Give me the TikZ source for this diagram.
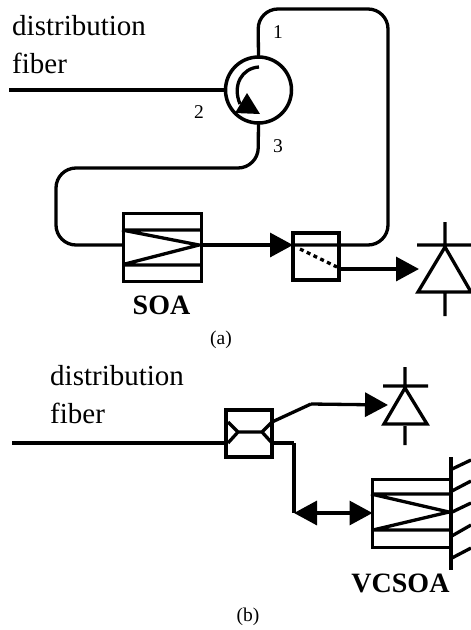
\documentclass[tikz,border=0pt]{standalone}
\usepackage{fontspec}
\setmainfont{Liberation Serif}
\usetikzlibrary{arrows.meta,positioning}

\begin{document}
\begin{tikzpicture}[x=1pt,y=-1pt,on grid,>={Triangle[length=23pt,width=24pt]},
        wire/.style={line width=3.3pt},
        box/.style={draw,line width=3.5pt,inner sep=0pt,outer sep=0pt},
        amp/.style={box,minimum width=78pt,minimum height=68pt},
        portlabel/.style={font=\fontsize{19.5}{19.5}\selectfont,inner sep=0pt},
        partlabel/.style={font=\fontsize{28}{28}\selectfont\bfseries,inner sep=0pt},
        fiberlabel/.style={font=\fontsize{29}{38}\selectfont,align=left,inner sep=0pt}]
        \useasboundingbox (0,0) rectangle (471,630);
        % part a
        \node[fiberlabel,anchor=north west] (fiber_a) at (12,15) {distribution\\fiber};
        \coordinate (fiber_a_in) at (9,90);
        \node[circle,draw,line width=3.5pt,minimum size=66pt,inner sep=0pt,outer sep=0pt] (circ) at (258.5,90) {};
        \node[portlabel] (p_1) at (278,32) {1};
        \node[portlabel] (p_2) at (199,112) {2};
        \node[portlabel] (p_3) at (278,146) {3};
        \node[amp] (soa) at (162.5,247.5) {};
        \node[box,minimum width=46pt,minimum height=47pt] (tap) [right=153.5pt of soa,yshift=-9pt] {};
        \node[partlabel] (soa_name) [below=57.5pt of soa,xshift=-1pt] {SOA};
        \node[portlabel] (cap_a) at (221,340) {(a)};
        \coordinate (pd_a) at (445,245);
        \coordinate (pd_a_in) at (419,269);
        \path[wire] 
        (fiber_a_in) edge (circ.west)
        (soa.east |- 0,245) edge[->] (tap.west |- 0,245)
        ;
        \draw[wire,rounded corners=20pt] (circ.north) -- (258,9) -- (388,9) -- (388,245) -- (293,245);
        \draw[wire,rounded corners=20pt] (circ.south) -- (258,168) -- (56,168) -- (56,245) -- (soa.west |- 0,245);
        \draw[wire,->] (tap.east |- 0,269) -- (pd_a_in);
        \draw[wire] (122,230) -- (199,245) -- (125,264) (123,230) -- (202,230) (123,265) -- (202,265);
        \draw[wire,dash pattern=on 4pt off 3.5pt] (300,249) -- (337,267);
        \draw[wire] (pd_a) ++(0,-23) -- ++(0,23) ++(-28,0) -- ++(54,0) (pd_a) ++(0,2) -- ++(-27,45) -- ++(53,0) -- cycle (pd_a) ++(0,47) -- ++(0,24);
        \draw[wire] (259,67) .. controls (242,68) and (232,85) .. (240,104);
        \fill (247,93) -- (235,113) -- (260,114) -- cycle;
        % part b
        \node[fiberlabel,anchor=north west] (fiber_b) at (50,365) {distribution\\fiber};
        \coordinate (fiber_b_in) at (12,443);
        \node[box,minimum width=46pt,minimum height=47pt] (split) at (249,433.5) {};
        \node[amp] (vcsoa) at (411.5,513.5) {};
        \node[partlabel] (vcsoa_name) [below=69.5pt of vcsoa,xshift=-11pt] {VCSOA};
        \node[portlabel] (cap_b) at (248,617) {(b)};
        \coordinate (pd_b) at (405,386);
        \coordinate (pd_b_in) at (388,405);
        \coordinate (split_up) at (311,404);
        \coordinate (split_down) at (294,443);
        \coordinate (vcsoa_in) at (294,513);
        \coordinate (mirror_top) at (451,457);
        \coordinate (mirror_bot) at (451,570);
        \path[wire]
        (fiber_b_in) edge (split.west |- 0,443)
        (split.east |- 0,422) edge (split_up)
        (split_up) edge[->] (pd_b_in)
        (split.east |- 0,443) edge (split_down)
        (split_down) edge (vcsoa_in)
        (vcsoa_in) edge[<->] (vcsoa.west |- 0,513)
        (mirror_top) edge (mirror_bot)
        ;
        \draw[wire] (228,422) -- (238,432) -- (228,443) (238,432) -- (262,432) (272,422) -- (262,432) -- (272,443);
        \draw[wire] (371,494) -- (449,512) -- (373,530) (373,494) -- (450,494) (373,530) -- (450,530);
        \draw[wire] (pd_b) ++(0,-19) -- ++(0,19) ++(-22,0) -- ++(45,0) (pd_b) ++(0,2) -- ++(-21,36) -- ++(43,0) -- cycle (pd_b) ++(0,40) -- ++(0,19);
        \foreach \y/\z in {470/460,492/481,513/503,537/525,559/548}
            \draw[wire] (450,\y) -- (471,\z);
\end{tikzpicture}
\end{document}
